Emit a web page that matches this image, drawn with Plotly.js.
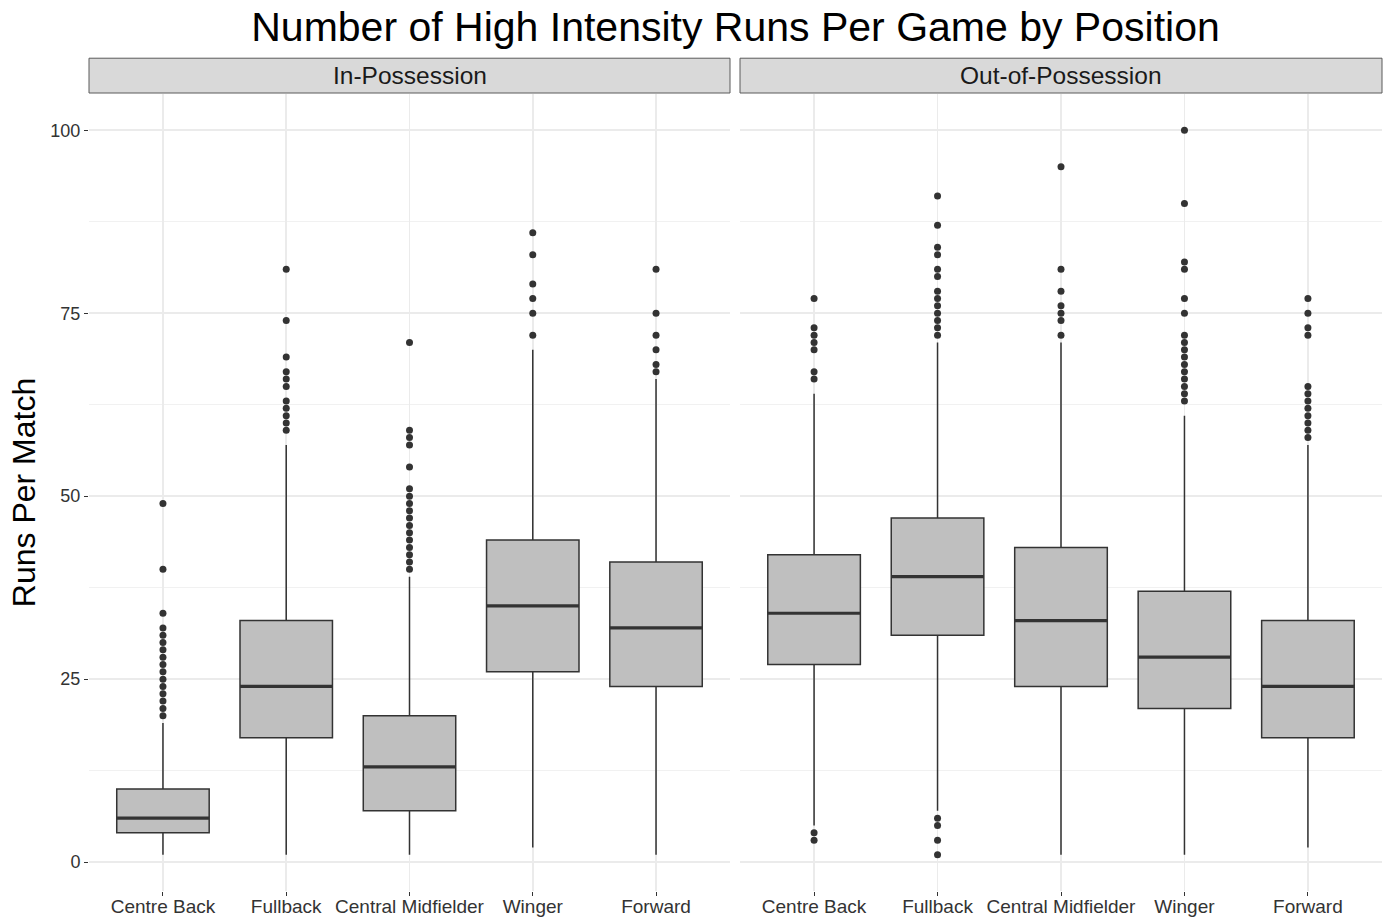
<!DOCTYPE html>
<html>
<head>
<meta charset="utf-8">
<script src="https://cdn.plot.ly/plotly-3.0.1.min.js"></script>
<style>
  html, body { margin: 0; padding: 0; background: #ffffff; }
  #chart { width: 1386px; height: 918px; }
</style>
</head>
<body>
<div id="chart"></div>
<script>
// ---- Data ----
const categories = ['Centre Back', 'Fullback', 'Central Midfielder', 'Winger', 'Forward'];
const panels = ['In-Possession', 'Out-of-Possession'];

// In-Possession box statistics
const inQ1 = [4, 17, 7, 26, 24];
const inMedian = [6, 24, 13, 35, 32];
const inQ3 = [10, 33, 20, 44, 41];
const inLowerWhisker = [1, 1, 1, 2, 1];
const inUpperWhisker = [19, 57, 39, 70, 66];
const inOutliers = [
  [20, 21, 22, 23, 24, 25, 26, 27, 28, 29, 30, 31, 32, 34, 40, 49],
  [59, 60, 61, 62, 63, 65, 66, 67, 69, 74, 81],
  [40, 41, 42, 43, 44, 45, 46, 47, 48, 49, 50, 51, 54, 57, 58, 59, 71],
  [72, 75, 77, 79, 83, 86],
  [67, 68, 70, 72, 75, 81]
];

// Out-of-Possession box statistics
const outQ1 = [27, 31, 24, 21, 17];
const outMedian = [34, 39, 33, 28, 24];
const outQ3 = [42, 47, 43, 37, 33];
const outLowerWhisker = [5, 7, 1, 1, 2];
const outUpperWhisker = [64, 71, 71, 61, 57];
const outOutliers = [
  [3, 4, 66, 67, 70, 71, 72, 73, 77],
  [1, 3, 5, 6, 72, 73, 74, 75, 76, 77, 78, 80, 81, 83, 84, 87, 91],
  [72, 74, 75, 76, 78, 81, 95],
  [63, 64, 65, 66, 67, 68, 69, 70, 71, 72, 75, 77, 81, 82, 90, 100],
  [58, 59, 60, 61, 62, 63, 64, 65, 72, 73, 75, 77]
];

const yTicks = [0, 25, 50, 75, 100];

// ---- Styling ----
const BOX_FILL = '#bfbfbf';
const INK = '#333333';
const GRID = '#ebebeb';
const BOX_WIDTH = 0.75;
const FONT = 'Liberation Sans, Arial, sans-serif';

const idx = categories.map((_, i) => i);

function panelTraces(q1, med, q3, lo, hi, outliers, xaxis) {
  const traces = [];
  traces.push({
    type: 'box',
    xaxis: xaxis, yaxis: 'y',
    x: idx,
    q1: q1, median: med, q3: q3,
    lowerfence: lo, upperfence: hi,
    boxpoints: false,
    width: BOX_WIDTH,
    whiskerwidth: 0,
    fillcolor: BOX_FILL,
    line: { color: INK, width: 1.5 },
    hoverinfo: 'skip',
    showlegend: false
  });
  // thicker median line (ggplot style)
  const mx = [], my = [];
  med.forEach((m, i) => {
    mx.push(i - BOX_WIDTH / 2, i + BOX_WIDTH / 2, null);
    my.push(m, m, null);
  });
  traces.push({
    type: 'scatter', mode: 'lines',
    xaxis: xaxis, yaxis: 'y',
    x: mx, y: my,
    line: { color: INK, width: 3.2 },
    hoverinfo: 'skip', showlegend: false
  });
  // outliers
  const ox = [], oy = [];
  outliers.forEach((arr, i) => arr.forEach(v => { ox.push(i); oy.push(v); }));
  traces.push({
    type: 'scatter', mode: 'markers',
    xaxis: xaxis, yaxis: 'y',
    x: ox, y: oy,
    marker: { color: INK, size: 7 },
    hoverinfo: 'skip', showlegend: false
  });
  return traces;
}

const data = [
  ...panelTraces(inQ1, inMedian, inQ3, inLowerWhisker, inUpperWhisker, inOutliers, 'x'),
  ...panelTraces(outQ1, outMedian, outQ3, outLowerWhisker, outUpperWhisker, outOutliers, 'x2')
];

const W = 1386, H = 918;
const mL = 89, mR = 4, mT = 93.8, mB = 27.1;
const plotW = W - mL - mR;
const plotH = H - mT - mB;
const d1 = [0, (730 - mL) / plotW];
const d2 = [(740 - mL) / plotW, 1];
const stripTop = 1 + (mT - 58) / plotH;
const stripBot = 1 + 1 / plotH;

function xAxis(domain) {
  return {
    domain: domain,
    anchor: 'y',
    range: [-0.6, categories.length - 0.4],
    tickmode: 'array',
    tickvals: idx,
    ticktext: categories,
    showgrid: true, gridcolor: GRID, gridwidth: 1.6,
    zeroline: false, showline: false,
    ticks: 'outside', ticklen: 4, tickwidth: 1, tickcolor: INK,
    ticklabelstandoff: -6,
    tickfont: { family: FONT, size: 19, color: INK },
    fixedrange: true
  };
}

const layout = {
  width: W, height: H,
  margin: { l: mL, r: mR, t: mT, b: mB, pad: 0 },
  paper_bgcolor: '#ffffff',
  plot_bgcolor: '#ffffff',
  font: { family: FONT, color: INK },
  title: {
    text: 'Number of High Intensity Runs Per Game by Position',
    font: { family: FONT, size: 41, color: '#000000' },
    x: 0.5, xanchor: 'center', xref: 'paper',
    y: 1 - 27 / H, yanchor: 'middle', yref: 'container'
  },
  xaxis: xAxis(d1),
  xaxis2: xAxis(d2),
  yaxis: {
    range: [-3.95, 104.95],
    tickmode: 'array',
    tickvals: yTicks,
    ticktext: yTicks.map(String),
    showgrid: true, gridcolor: GRID, gridwidth: 1.6,
    minor: { dtick: 12.5, tick0: 0, showgrid: true, gridcolor: '#f1f1f1', gridwidth: 1, ticks: '' },
    zeroline: false, showline: false,
    ticks: 'outside', ticklen: 4, tickwidth: 1, tickcolor: INK,
    tickfont: { family: FONT, size: 18, color: INK },
    title: { text: 'Runs Per Match', font: { family: FONT, size: 32, color: '#000000' }, standoff: 5 },
    fixedrange: true
  },
  shapes: [
    { type: 'rect', xref: 'x domain', yref: 'paper', x0: 0, x1: 1, y0: stripBot, y1: stripTop,
      fillcolor: '#d9d9d9', line: { color: '#5a5a5a', width: 1 }, layer: 'below' },
    { type: 'rect', xref: 'x2 domain', yref: 'paper', x0: 0, x1: 1, y0: stripBot, y1: stripTop,
      fillcolor: '#d9d9d9', line: { color: '#5a5a5a', width: 1 }, layer: 'below' }
  ],
  annotations: [
    { text: panels[0], xref: 'x domain', yref: 'paper', x: 0.5, y: (stripBot + stripTop) / 2,
      xanchor: 'center', yanchor: 'middle', showarrow: false,
      font: { family: FONT, size: 24.5, color: '#1a1a1a' } },
    { text: panels[1], xref: 'x2 domain', yref: 'paper', x: 0.5, y: (stripBot + stripTop) / 2,
      xanchor: 'center', yanchor: 'middle', showarrow: false,
      font: { family: FONT, size: 24.5, color: '#1a1a1a' } }
  ]
};

Plotly.newPlot('chart', data, layout, { staticPlot: true, displayModeBar: false });
</script>
</body>
</html>
